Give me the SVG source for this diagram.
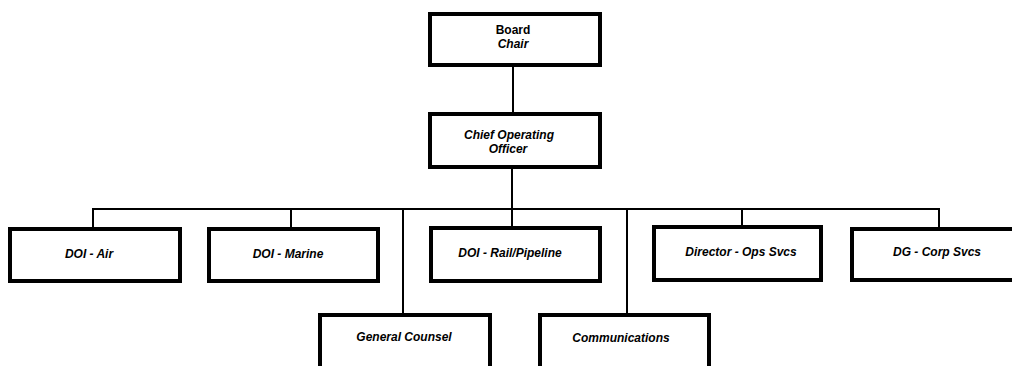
<svg xmlns="http://www.w3.org/2000/svg" width="1012" height="366" viewBox="0 0 1012 366">
  <style>
    .box { fill: #ffffff; stroke: #000000; stroke-width: 4; }
    .link { fill: none; stroke: #000000; stroke-width: 2; }
    .lbl { font-family: "Liberation Sans", Arial, sans-serif; font-size: 12px; font-weight: bold; font-style: italic; fill: #000000; text-anchor: middle; }
    .plain { font-style: normal; }
  </style>
  <rect width="1012" height="366" fill="#ffffff"/>

  <!-- reporting lines -->
  <g id="connectors">
    <line class="link" x1="513" y1="67" x2="513" y2="112"/>
    <line class="link" x1="512" y1="169" x2="512" y2="209"/>
    <line class="link" x1="92" y1="209" x2="940" y2="209"/>
    <line class="link" x1="93" y1="209" x2="93" y2="227"/>
    <line class="link" x1="291" y1="209" x2="291" y2="227"/>
    <line class="link" x1="512" y1="209" x2="512" y2="226"/>
    <line class="link" x1="742" y1="209" x2="742" y2="225"/>
    <line class="link" x1="939" y1="209" x2="939" y2="227"/>
    <line class="link" x1="403" y1="209" x2="403" y2="313"/>
    <line class="link" x1="627" y1="209" x2="627" y2="313"/>
  </g>

  <g id="board">
    <rect class="box" x="430" y="14" width="170" height="51"/>
    <text class="lbl plain" x="513" y="34">Board</text>
    <text class="lbl" x="513" y="48">Chair</text>
  </g>

  <g id="coo">
    <rect class="box" x="430" y="114" width="170" height="53"/>
    <text class="lbl" x="509" y="139">Chief Operating</text>
    <text class="lbl" x="508" y="153">Officer</text>
  </g>

  <g id="doi-air">
    <rect class="box" x="10" y="229" width="170" height="52"/>
    <text class="lbl" x="89" y="258">DOI - Air</text>
  </g>

  <g id="doi-marine">
    <rect class="box" x="209" y="229" width="169" height="52"/>
    <text class="lbl" x="288" y="258">DOI - Marine</text>
  </g>

  <g id="doi-rail">
    <rect class="box" x="431" y="228" width="169" height="53"/>
    <text class="lbl" x="510" y="257">DOI - Rail/Pipeline</text>
  </g>

  <g id="director-ops">
    <rect class="box" x="654" y="227" width="167" height="53"/>
    <text class="lbl" x="741" y="256">Director - Ops Svcs</text>
  </g>

  <g id="dg-corp">
    <rect class="box" x="852" y="229" width="170" height="51"/>
    <text class="lbl" x="937" y="256">DG - Corp Svcs</text>
  </g>

  <g id="general-counsel">
    <rect class="box" x="320" y="315" width="170" height="60"/>
    <text class="lbl" x="404" y="341">General Counsel</text>
  </g>

  <g id="communications">
    <rect class="box" x="540" y="315" width="169" height="60"/>
    <text class="lbl" x="621" y="342">Communications</text>
  </g>
</svg>
